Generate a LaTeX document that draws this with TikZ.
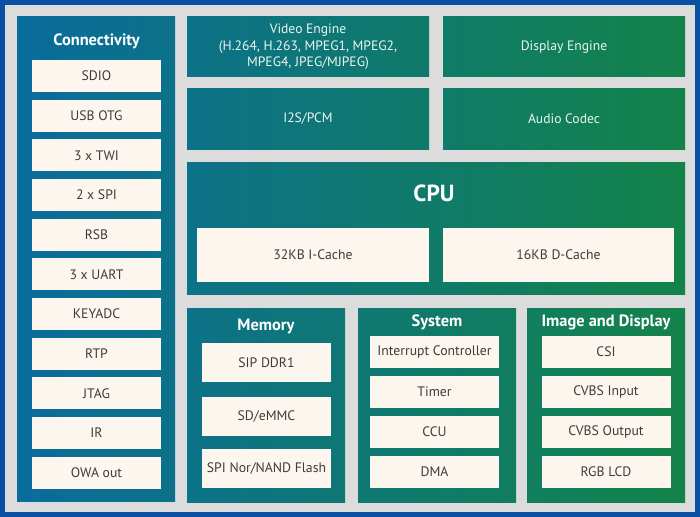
\documentclass[tikz,border=0pt]{standalone}
\usepackage{fontspec}
\setmainfont{PT Sans}
\newdimen\pxu \pxu=0.75pt
\definecolor{cblue}{HTML}{0A6C9C}
\definecolor{cgreen}{HTML}{13834A}
\definecolor{frameblue}{HTML}{0A50A0}
\definecolor{backgray}{HTML}{DCDCDC}
\definecolor{cream}{HTML}{FDF6EE}
\definecolor{itemtext}{HTML}{3C3C3C}
\tikzset{
  panel/.style={inner sep=0pt, text=white!92!cgreen, align=center,
    font=\fontsize{10.2}{12.4}\selectfont},
  item/.style={fill=cream, inner sep=0pt, text=itemtext,
    font=\fontsize{10.3}{12}\selectfont, minimum width=129\pxu, minimum height=32\pxu},
  paneltitle/.style={text=white, font=\fontsize{12.3}{14}\selectfont\bfseries},
}
\begin{document}
\begin{tikzpicture}[x=0.75pt,y=-0.75pt]
  \useasboundingbox (0,0) rectangle (700,517);
  \fill[frameblue] (0,0) rectangle (700,517);
  \fill[backgray] (5,5) rectangle (695,512);
  % connectivity column
  \node[panel, minimum width=158\pxu, minimum height=484\pxu,
    left color=cblue, right color=cgreen!24!cblue] (conn) at (96,259) {};
  \node[paneltitle] (conntitle) at (96.5,41) {Connectivity};
  \foreach \name [count=\i from 0] in {SDIO,USB OTG,3 x TWI,2 x SPI,RSB,3 x UART,KEYADC,RTP,JTAG,IR,OWA out}
    \node[item] (conn\i) at (96.5,{76+39.65*\i}) {\name};
  % engines
  \node[panel, minimum width=242\pxu, minimum height=60\pxu,
    left color=cgreen!25!cblue, right color=cgreen!62!cblue] (video) at (308,47)
    {Video Engine\\(H.264, H.263, MPEG1, MPEG2,\\MPEG4, JPEG/MJPEG)};
  \node[panel, minimum width=242\pxu, minimum height=60\pxu,
    left color=cgreen!64!cblue, right color=cgreen] (display) at (564,47) {Display Engine};
  \node[panel, minimum width=242\pxu, minimum height=60\pxu,
    left color=cgreen!25!cblue, right color=cgreen!62!cblue] (i2s) at (308,119) {I2S/PCM};
  \node[panel, minimum width=242\pxu, minimum height=60\pxu,
    left color=cgreen!64!cblue, right color=cgreen] (audio) at (564,119) {Audio Codec};
  % cpu
  \node[panel, minimum width=498\pxu, minimum height=132\pxu,
    left color=cgreen!25!cblue, right color=cgreen] (cpu) at (436,228) {};
  \node[paneltitle, font=\fontsize{17.5}{20}\selectfont\bfseries] (cputitle) at (434,193) {CPU};
  \node[item, minimum width=232\pxu, minimum height=54\pxu] (icache) at (313,255) {32KB I-Cache};
  \node[item, minimum width=231\pxu, minimum height=54\pxu] (dcache) at (558.5,255) {16KB D-Cache};
  % bottom row
  \node[panel, minimum width=158\pxu, minimum height=194\pxu,
    left color=cgreen!25!cblue, right color=cgreen!49!cblue] (memory) at (266,405) {};
  \node[panel, minimum width=158\pxu, minimum height=194\pxu,
    left color=cgreen!51!cblue, right color=cgreen!75!cblue] (system) at (437,405) {};
  \node[panel, minimum width=158\pxu, minimum height=194\pxu,
    left color=cgreen!76!cblue, right color=cgreen] (imgdisp) at (606,405) {};
  \node[paneltitle] (memtitle) at (266,326) {Memory};
  \node[paneltitle] (systitle) at (437,322) {System};
  \node[paneltitle] (imgtitle) at (606,322) {Image and Display};
  \foreach \ypos/\name [count=\i] in {362.5/SIP DDR1,416.5/{SD/eMMC},468.5/{SPI Nor/NAND Flash}}
    \node[item, minimum height=39\pxu] (mem\i) at (266.5,\ypos) {\name};
  \foreach \name [count=\i from 0] in {Interrupt Controller,Timer,CCU,DMA}
    \node[item] (sys\i) at (434.5,{352+40*\i}) {\name};
  \foreach \name [count=\i from 0] in {CSI,CVBS Input,CVBS Output,RGB LCD}
    \node[item] (img\i) at (606,{352+40*\i}) {\name};
\end{tikzpicture}
\end{document}
